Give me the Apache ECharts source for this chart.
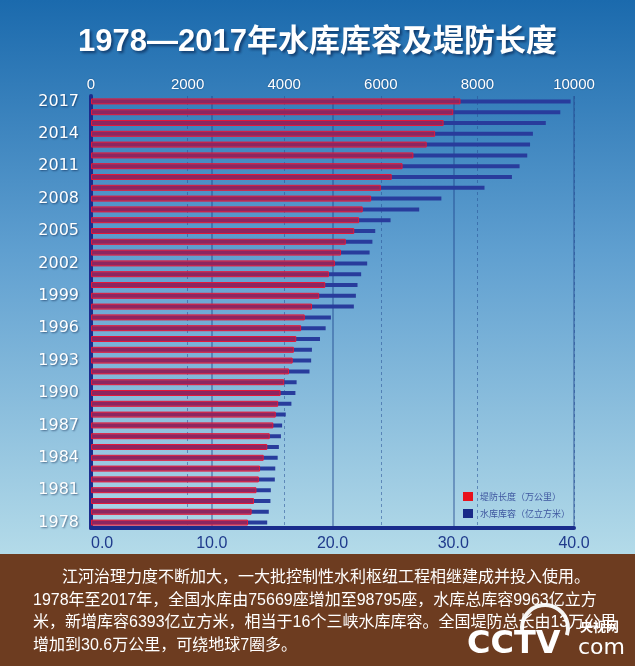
<!DOCTYPE html>
<html>
<head>
<meta charset="utf-8">
<script src="https://cdn.jsdelivr.net/npm/echarts@6/dist/echarts.min.js"></script>
<style>
html,body{margin:0;padding:0;background:#6e3e22;}
#c{width:635px;height:666px;}
</style>
</head>
<body>
<div id="c"></div>
<script>
const years = ['1978','1979','1980','1981','1982','1983','1984','1985','1986','1987',
  '1988','1989','1990','1991','1992','1993','1994','1995','1996','1997',
  '1998','1999','2000','2001','2002','2003','2004','2005','2006','2007',
  '2008','2009','2010','2011','2012','2013','2014','2015','2016','2017'];
const yearTicks = ['1978','1981','1984','1987','1990','1993','1996','1999','2002','2005','2008','2011','2014','2017'];
// 堤防长度（万公里）
const levee = [13.0,13.3,13.5,13.7,13.9,14.0,14.3,14.6,14.8,15.1,
  15.3,15.5,15.7,16.0,16.4,16.7,16.8,17.0,17.4,17.7,
  18.3,18.9,19.4,19.7,20.2,20.7,21.1,21.8,22.2,22.5,
  23.2,24.0,24.9,25.8,26.7,27.8,28.5,29.2,30.0,30.6];
// 水库库容（亿立方米）
const capacity = [3648,3681,3715,3723,3806,3815,3865,3890,3932,3957,
  4032,4149,4232,4257,4524,4558,4574,4741,4858,4967,
  5442,5484,5518,5593,5718,5768,5826,5885,6202,6795,
  7254,8147,8715,8873,9032,9090,9149,9416,9716,9930];
const bottomTicks = [0,10,20,30,40];
const topTicks = [0,2000,4000,6000,8000,10000];
const titleText = '1978—2017年水库库容及堤防长度';
const leveeName = '堤防长度（万公里）';
const capName = '水库库容（亿立方米）';
const noteLines = [
  '江河治理力度不断加大，一大批控制性水利枢纽工程相继建成并投入使用。',
  '1978年至2017年，全国水库由75669座增加至98795座，水库总库容9963亿立方',
  '米，新增库容6393亿立方米，相当于16个三峡水库库容。全国堤防总长由13万公里',
  '增加到30.6万公里，可绕地球7圈多。'
];

const chart = echarts.init(document.getElementById('c'), null, {renderer:'canvas'});
const FONT = "'Liberation Sans','Noto Sans CJK SC',sans-serif";
const navy = '#1a2c8c';
const noteX = [62,33,33,33];
const noteY = [578,601,623,646];

const graphics = [
  {type:'rect', z:-10, silent:true, shape:{x:0,y:0,width:635,height:556},
   style:{fill:new echarts.graphic.LinearGradient(0,0,0,1,[
     {offset:0,color:'#1b6aad'},{offset:0.45,color:'#5f9fd0'},{offset:1,color:'#b4dbe9'}])}},
  {type:'rect', z:-10, silent:true, shape:{x:0,y:554,width:635,height:112}, style:{fill:'#6d3c20'}}
];
noteLines.forEach(function(t,i){
  graphics.push({type:'text', x:noteX[i], y:noteY[i], silent:true,
    style:{text:t, fill:'#ffffff', font:"16px " + FONT, verticalAlign:'middle'}});
});
// logo
graphics.push({type:'arc', silent:true, shape:{cx:545,cy:628,r:23,startAngle:Math.PI*0.95,endAngle:Math.PI*2.1},
  style:{stroke:'rgba(255,255,255,0.95)', lineWidth:4, fill:null}});
graphics.push({type:'text', x:467, y:645, silent:true, style:{text:'CCTV', fill:'#ffffff', font:"bold 32px 'DejaVu Sans',sans-serif", verticalAlign:'middle'}});
graphics.push({type:'text', x:580, y:626, silent:true, style:{text:'央视网', fill:'#ffffff', font:"bold 13px 'Noto Sans CJK SC',sans-serif", verticalAlign:'middle'}});
graphics.push({type:'text', x:578, y:648, silent:true, style:{text:'com', fill:'#ffffff', font:"22px 'DejaVu Sans',sans-serif", verticalAlign:'middle'}});

const option = {
  animation:false,
  title:{text:titleText, left:'center', top:22,
    textStyle:{color:'#ffffff', fontSize:31, fontWeight:'bold', fontFamily:FONT,
      textShadowColor:'rgba(0,20,60,0.6)', textShadowBlur:3, textShadowOffsetX:2, textShadowOffsetY:2}},
  legend:{orient:'vertical', left:463, top:492, itemWidth:10, itemHeight:9, itemGap:8, padding:0, icon:'rect',
    selectedMode:false,
    textStyle:{fontSize:9, color:'#3f57a0', fontFamily:"'Noto Sans CJK SC',sans-serif", padding:[0,0,0,2]},
    data:[{name:leveeName, itemStyle:{color:'#e8121c', borderWidth:0, opacity:1}},
          {name:capName, itemStyle:{color:'#1a2a88', opacity:1}}]},
  grid:{left:91, right:61, top:96, bottom:138, containLabel:false},
  xAxis:[
    {type:'value', position:'bottom', min:0, max:40, interval:10,
     axisLine:{show:true, lineStyle:{color:navy, width:4}},
     axisTick:{show:false},
     axisLabel:{color:'#1f3a8c', fontSize:16, fontFamily:FONT, margin:8, alignMinLabel:'left',
       formatter:function(v){ return bottomTicks.indexOf(v)>=0 ? v.toFixed(1) : ''; }},
     splitLine:{show:true, lineStyle:{color:'rgba(30,70,140,0.42)', width:2, type:'solid'}}},
    {type:'value', position:'top', min:0, max:10000, interval:2000,
     axisLine:{show:false}, axisTick:{show:false},
     axisLabel:{color:'#ffffff', fontSize:15, fontFamily:FONT, margin:4,
       textShadowColor:'rgba(0,20,60,0.5)', textShadowBlur:2,
       formatter:function(v){ return topTicks.indexOf(v)>=0 ? String(v) : ''; }},
     splitLine:{show:true, lineStyle:{color:'rgba(40,80,150,0.55)', width:1, type:[3,3]}}}
  ],
  yAxis:[
    {type:'category', data:years, position:'left',
     axisLine:{show:true, lineStyle:{color:navy, width:4}},
     axisTick:{show:false}, splitLine:{show:false},
     axisLabel:{color:'#ffffff', fontSize:16, fontFamily:"'DejaVu Sans',sans-serif", margin:12,
       textShadowColor:'rgba(0,20,60,0.55)', textShadowBlur:2, textShadowOffsetX:1, textShadowOffsetY:1,
       interval:function(i, v){ return yearTicks.indexOf(v) >= 0; }}},
    {type:'category', data:years, show:false}
  ],
  series:[
    {name:capName, type:'bar', xAxisIndex:1, yAxisIndex:1, data:capacity, barWidth:4, z:2,
     itemStyle:{color:'#283c9c'}},
    {name:leveeName, type:'bar', xAxisIndex:0, yAxisIndex:0, data:levee, barWidth:6, z:3,
     itemStyle:{color:'rgba(222,20,50,0.55)', borderColor:'#e3183a', borderWidth:1}}
  ],
  graphic:graphics
};
chart.setOption(option);
</script>
</body>
</html>
